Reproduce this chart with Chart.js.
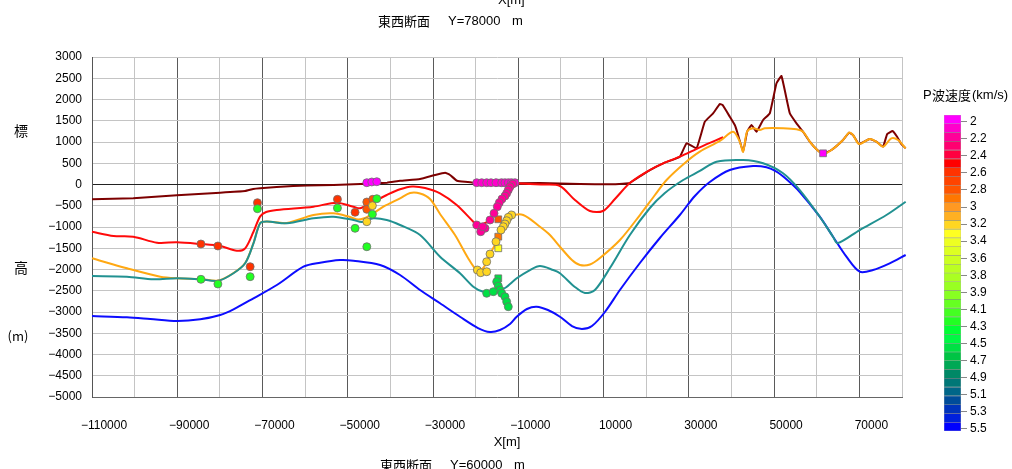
<!DOCTYPE html>
<html><head><meta charset="utf-8">
<script src="https://cdn.jsdelivr.net/npm/chart.js@4/dist/chart.umd.min.js"></script>
<style>
html,body{margin:0;padding:0;background:#fff;overflow:hidden;}
#wrap{position:relative;width:1012px;height:469px;background:#fff;}
#main{position:absolute;left:0;top:0;}
#bar{position:absolute;left:900px;top:80px;}
</style></head><body>
<div id="wrap"><canvas id="main" width="1012" height="469"></canvas><canvas id="bar" width="112" height="370"></canvas></div>
<script>
// ---------- data ----------
const xGridValues = [-110000,-100000,-90000,-80000,-70000,-60000,-50000,-40000,-30000,-20000,-10000,0,10000,20000,30000,40000,50000,60000,70000,80000];
const xTickValues = [-110000,-90000,-70000,-50000,-30000,-10000,10000,30000,50000,70000];
const xTickLabels = ['\u2212110000','\u221290000','\u221270000','\u221250000','\u221230000','\u221210000','10000','30000','50000','70000'];
const yTickValues = [-5000,-4500,-4000,-3500,-3000,-2500,-2000,-1500,-1000,-500,0,500,1000,1500,2000,2500,3000];

const velLabels = [2,2.2,2.4,2.6,2.8,3,3.2,3.4,3.6,3.8,3.9,4.1,4.3,4.5,4.7,4.9,5.1,5.3,5.5];
const colorbarColors = ['#ff00ff','#ff00cc','#ff0099','#ff0070','#ff0040','#ff0000','#ff3300','#ff4400','#ff5500','#ff7700','#ff9922','#ffb022','#ffd622','#ffff22','#eeff22','#ddff22','#ccff22','#bbff22','#aaff22','#99ff22','#88ff22','#66ff22','#44ff22','#22ff22','#00ff33','#00f844','#00e044','#00c444','#00a855','#008866','#007777','#006688','#004c99','#0033bb','#0020dd','#0000ff'];

const topography = [[-110000,-348],[-100320,-325],[-90080,-254],[-79930,-193],[-74070,-153],[-72190,-106],[-70550,-89],[-62820,-35],[-56490,-19],[-50160,0],[-40790,42],[-37740,89],[-33050,129],[-29530,224],[-27190,278],[-26020,224],[-24380,89],[-20630,42],[-14300,28],[-4920,35],[4460,12],[11490,5],[14500,20],[16170,40],[18500,190],[20860,341],[23980,499],[27890,654],[29460,969],[31810,852],[33750,1478],[35700,1675],[37270,1894],[37900,1871],[39610,1595],[40780,1400],[41320,1242],[42730,772],[43670,1242],[44700,1400],[45870,1242],[47420,1518],[48990,1675],[50560,2381],[51730,2553],[53680,1675],[55250,1440],[56800,1242],[58370,1007],[59940,828],[61490,718],[63460,812],[66170,1047],[67580,1219],[68510,1165],[69920,953],[72420,1071],[73990,1007],[75540,889],[76530,1188],[77790,1259],[78890,1118],[79830,953],[80860,852]];

const layerRed = [[-110000,-1111],[-104940,-1212],[-100320,-1228],[-94760,-1369],[-90080,-1360],[-84620,-1400],[-79930,-1447],[-76010,-1558],[-74070,-1501],[-72120,-1111],[-70550,-750],[-69150,-647],[-66640,-600],[-58060,-522],[-52570,-428],[-48680,-522],[-47110,-560],[-43990,-405],[-40860,-247],[-37740,-113],[-34920,-47],[-31880,-82],[-28360,-207],[-24450,-482],[-20560,-875],[-19760,-953],[-18280,-929],[-16640,-835],[-15470,-600],[-13520,-287],[-11560,-24],[-10310,24],[-7260,12],[-3750,0],[-230,-35],[3280,-365],[6800,-624],[9840,-624],[12660,-341],[16170,35],[20860,341],[23980,499],[27890,654],[32580,875],[38040,1111]];

const layerOrange = [[-110000,-1737],[-101800,-1972],[-93990,-2169],[-90080,-2207],[-84620,-2224],[-80330,-2259],[-76810,-2082],[-74070,-1847],[-72120,-1377],[-70550,-906],[-68980,-871],[-64290,-906],[-58060,-718],[-53370,-678],[-49460,-765],[-47580,-824],[-45940,-788],[-43990,-678],[-41650,-522],[-37740,-325],[-35390,-200],[-33050,-212],[-30710,-341],[-28360,-694],[-24850,-1188],[-21800,-1729],[-19760,-2012],[-18210,-1965],[-16640,-1635],[-15070,-1346],[-13520,-1024],[-11560,-741],[-8840,-718],[-4920,-993],[-2580,-1188],[-230,-1464],[2580,-1777],[4460,-1894],[6800,-1882],[9150,-1729],[13840,-1306],[18530,-718],[22050,-247],[24780,106],[29070,506],[32580,772],[37270,1024],[40380,1242],[41950,1007],[42730,772],[43670,1242],[45070,1322],[46640,1282],[47820,1322],[52110,1322],[55250,1299],[56800,1242],[58370,1007],[59940,828],[61490,718],[63460,812],[66170,1047],[67580,1219],[68510,1165],[69920,953],[72420,1071],[73990,1007],[75540,889],[77510,1087],[79060,1047],[80860,852]];

const layerTeal = [[-110000,-2153],[-101800,-2169],[-95560,-2231],[-90080,-2207],[-84620,-2231],[-80330,-2264],[-76810,-2089],[-74070,-1854],[-72120,-1384],[-70550,-913],[-68980,-871],[-64290,-913],[-58060,-795],[-53370,-758],[-48680,-835],[-46640,-882],[-43990,-795],[-40860,-835],[-37740,-953],[-33050,-1188],[-28360,-1699],[-23680,-2089],[-20560,-2405],[-18210,-2522],[-15470,-2529],[-13130,-2435],[-10380,-2207],[-7270,-2012],[-4920,-1918],[-1810,-2012],[-230,-2089],[3280,-2412],[5630,-2553],[7970,-2482],[11490,-1965],[16170,-1188],[20860,-553],[24380,-200],[28670,106],[32580,318],[36490,536],[42730,576],[47420,499],[52100,264],[56020,-130],[60710,-758],[63820,-1228],[64900,-1380],[70080,-1071],[76340,-718],[80860,-405]];

const layerBlue = [[-110000,-3094],[-101800,-3125],[-96330,-3165],[-90080,-3212],[-84620,-3172],[-79930,-3071],[-76810,-2937],[-72120,-2678],[-66640,-2365],[-60400,-1934],[-56490,-1840],[-51800,-1777],[-48680,-1793],[-42420,-1894],[-37740,-2130],[-33050,-2483],[-28360,-2795],[-23680,-3111],[-19460,-3377],[-16640,-3471],[-14300,-3424],[-11950,-3282],[-10380,-3111],[-7970,-2929],[-5700,-2875],[-3050,-2953],[-235,-3111],[2580,-3330],[4920,-3400],[7270,-3330],[10310,-3000],[13830,-2482],[18520,-1847],[23200,-1259],[27890,-718],[31410,-271],[34920,59],[39610,341],[45070,435],[48210,405],[50560,301],[52900,122],[56020,-176],[60710,-758],[63820,-1228],[66960,-1699],[70080,-2052],[73200,-2012],[77110,-1854],[80860,-1659]];

// observed P-wave velocity samples: [x, elevation, velocity]
const obsCircles = [[-84450,-1400,2.6],[-80470,-1447,2.6],[-84450,-2231,4.2],[-80470,-2341,4.2],[-71190,-428,2.6],[-71190,-569,4.2],[-72900,-1934,2.6],[-72900,-2169,4.2],[-52430,-348,2.6],[-52430,-553,4.2],[-48290,-654,2.6],[-48290,-1031,4.2],[-45540,-412,2.8],[-44140,-348,2.8],[-45540,-584,2.8],[-43200,-334,4.2],[-44230,-499,3.3],[-45540,-875,3.3],[-44230,-701,4.2],[-45540,-1464,4.2],[-45540,42,2.05],[-44370,59,2.05],[-43200,66,2.05],
[-19760,42,2.1],[-18590,42,2.1],[-17420,42,2.1],[-16410,42,2.1],[-15240,42,2.1],[-13900,42,2.1],[-13130,42,2.1],[-12350,42,2.1],[-11560,42,2.1],[-10780,42,2.1],
[-11320,12,2.3],[-11950,-52,2.3],[-12350,-129,2.3],[-12730,-207,2.3],[-13130,-271,2.3],[-13830,-341,2.3],[-14460,-428,2.3],[-14930,-522,2.3],[-15700,-678,2.3],[-16640,-835,2.3],[-17810,-1031,2.3],[-18820,-1111,2.3],[-19760,-953,2.3],[-18350,-993,2.3],
[-11560,-718,3.3],[-12350,-772,3.3],[-12730,-852,3.3],[-13130,-929,3.3],[-13520,-993,3.3],[-14070,-1071,3.3],[-15240,-1346,3.3],[-16640,-1635,3.3],[-17420,-1817,3.3],[-19620,-2012,3.3],[-18820,-2075,3.3],[-17420,-2052,3.3],
[-15070,-2287,4.6],[-14700,-2388,4.6],[-14300,-2482,4.6],[-17420,-2560,4.6],[-15870,-2522,4.6],[-13900,-2560,4.6],[-13130,-2640,4.6],[-12730,-2758,4.6],[-12350,-2875,4.6]];
const obsSquares = [[-14700,42,2.1],[-14700,-819,2.8],[-14700,-1228,2.95],[-14700,-1501,3.35],[-14700,-2207,4.6],[61480,734,2.0]];

// ---------- helpers ----------
function velColor(v){
  let p = velLabels.length-1;
  for(let i=0;i<velLabels.length-1;i++){
    if(v>=velLabels[i] && v<=velLabels[i+1]){ p = i+(v-velLabels[i])/(velLabels[i+1]-velLabels[i]); break; }
  }
  if(v<velLabels[0]) p=0;
  const c = Math.max(0,Math.min(colorbarColors.length-1, Math.floor(p*2)));
  return colorbarColors[c];
}
const toXY = a => a.map(p=>({x:p[0],y:p[1]}));
const fmt = v => v<0 ? '\u2212'+Math.abs(v) : String(v);
const LATIN = '"Liberation Sans", Arial, sans-serif';
const CJK = '"Noto Sans CJK JP", "Noto Sans CJK SC", sans-serif';

function lineDs(data,color,order,tension){
  return {data:toXY(data),showLine:true,borderColor:color,backgroundColor:color,borderWidth:2,pointRadius:0,pointHoverRadius:0,tension:tension,order:order,clip:6};
}

const textPlugin = {
  id:'texts',
  afterDraw(chart){
    const c = chart.ctx; c.save(); c.fillStyle='#000'; c.textBaseline='middle'; c.textAlign='left';
    // top title
    c.font = '13px '+CJK; c.fillText('東西断面',378,21);
    c.font = '13px '+LATIN; c.fillText('Y=78000',448,21); c.fillText('m',512,21);
    // cut-off X[m] at the very top
    c.textBaseline='alphabetic'; c.fillText('X[m]',498,4);
    c.textBaseline='middle';
    // x-axis title
    c.textAlign='center'; c.fillText('X[m]',507,442);
    // bottom (cut) title
    c.textAlign='left';
    c.font = '13px '+CJK; c.fillText('東西断面',380,465);
    c.font = '13px '+LATIN; c.fillText('Y=60000',450,465); c.fillText('m',514,465);
    // y-axis title
    c.textAlign='center';
    c.font = '14px '+CJK; c.fillText('標',21,131); c.fillText('高',21,268);
    c.font = '13px '+CJK; c.fillText('(m)',18,336);
    c.restore();
  }
};

new Chart(document.getElementById('main'),{
  type:'scatter',
  data:{datasets:[
    {data:obsCircles.map(p=>({x:p[0],y:p[1]})),pointStyle:'circle',pointRadius:4,pointHoverRadius:4,
     pointBackgroundColor:obsCircles.map(p=>velColor(p[2])),pointBorderColor:'#6e6e6e',pointBorderWidth:0.8,showLine:false,order:0},
    {data:obsSquares.map(p=>({x:p[0],y:p[1]})),pointStyle:'rect',pointRadius:4.8,pointHoverRadius:4.8,
     pointBackgroundColor:obsSquares.map(p=>velColor(p[2])),pointBorderColor:'#6e6e6e',pointBorderWidth:0.8,showLine:false,order:0},
    lineDs(layerTeal,'#219191',1,0.3),
    lineDs(layerBlue,'#0d0dff',2,0.3),
    lineDs(layerOrange,'#ffa812',3,0.3),
    lineDs(layerRed,'#ff0a0a',4,0.3),
    lineDs(topography,'#7d0000',5,0.1)
  ]},
  options:{
    responsive:false,animation:false,devicePixelRatio:1,
    layout:{padding:{left:0,top:57,right:110,bottom:0}},
    plugins:{legend:{display:false},tooltip:{enabled:false},title:{display:false}},
    events:[],
    scales:{
      x:{type:'linear',min:-110000,max:80000,
        afterFit(s){s.height=72;},
        afterBuildTicks(s){s.ticks=xGridValues.map(v=>({value:v}));},
        ticks:{autoSkip:false,maxRotation:0,minRotation:0,padding:21,labelOffset:12,color:'#000',
          font:{family:LATIN,size:12},
          callback:(v)=>{const i=xTickValues.indexOf(v);return i>=0?xTickLabels[i]:'';}},
        grid:{drawTicks:false,lineWidth:1,color:(ctx)=>{const v=ctx.tick&&ctx.tick.value;return (xTickValues.indexOf(v)>=0)?'#5a5a5a':'#c4c4c4';}},
        border:{color:'#666',width:1}
      },
      y:{type:'linear',min:-5000,max:3000,
        afterFit(s){s.width=92;},
        afterBuildTicks(s){s.ticks=yTickValues.map(v=>({value:v}));},
        ticks:{padding:10,color:'#000',font:{family:LATIN,size:12},callback:(v)=>fmt(v)},
        grid:{drawTicks:false,lineWidth:1,color:(ctx)=>(ctx.tick&&ctx.tick.value===0)?'#222':'#c4c4c4'},
        border:{color:'#555',width:1}
      }
    }
  },
  plugins:[textPlugin]
});

// ---------- colour bar ----------
const t0=-0.39, t1=18.12, cellH=(t1-t0)/colorbarColors.length;
const barTitle = {id:'barTitle',afterDraw(chart){const c=chart.ctx;c.save();c.fillStyle='#000';c.textBaseline='middle';c.textAlign='left';
  c.font='13px '+LATIN; c.fillText('P',23,15);
  c.font='13px '+CJK; c.fillText('波速度',32,15);
  c.font='13px '+LATIN; c.fillText('(km/s)',72,15); c.restore();}};
new Chart(document.getElementById('bar'),{
  type:'bar',
  data:{labels:[''],datasets:colorbarColors.map((col,k)=>({data:[[t0+k*cellH,t0+(k+1)*cellH]],backgroundColor:col,borderColor:'rgba(40,40,40,0.35)',borderWidth:0.6,borderSkipped:false,grouped:false,categoryPercentage:1,barPercentage:1}))},
  options:{responsive:false,animation:false,devicePixelRatio:1,events:[],
    layout:{padding:{left:44,top:35,bottom:19,right:0}},
    plugins:{legend:{display:false},tooltip:{enabled:false}},
    scales:{
      x:{display:false},
      y:{position:'right',reverse:true,min:t0,max:t1,
        afterFit(s){s.width=51;},
        afterBuildTicks(s){s.ticks=velLabels.map((_,i)=>({value:i}));},
        ticks:{padding:3,color:'#000',font:{family:LATIN,size:12},callback:(v)=>String(velLabels[v])},
        grid:{drawOnChartArea:false,drawTicks:true,tickLength:6,color:'#888'},
        border:{display:false}}
    }},
  plugins:[barTitle]
});
</script></body></html>
